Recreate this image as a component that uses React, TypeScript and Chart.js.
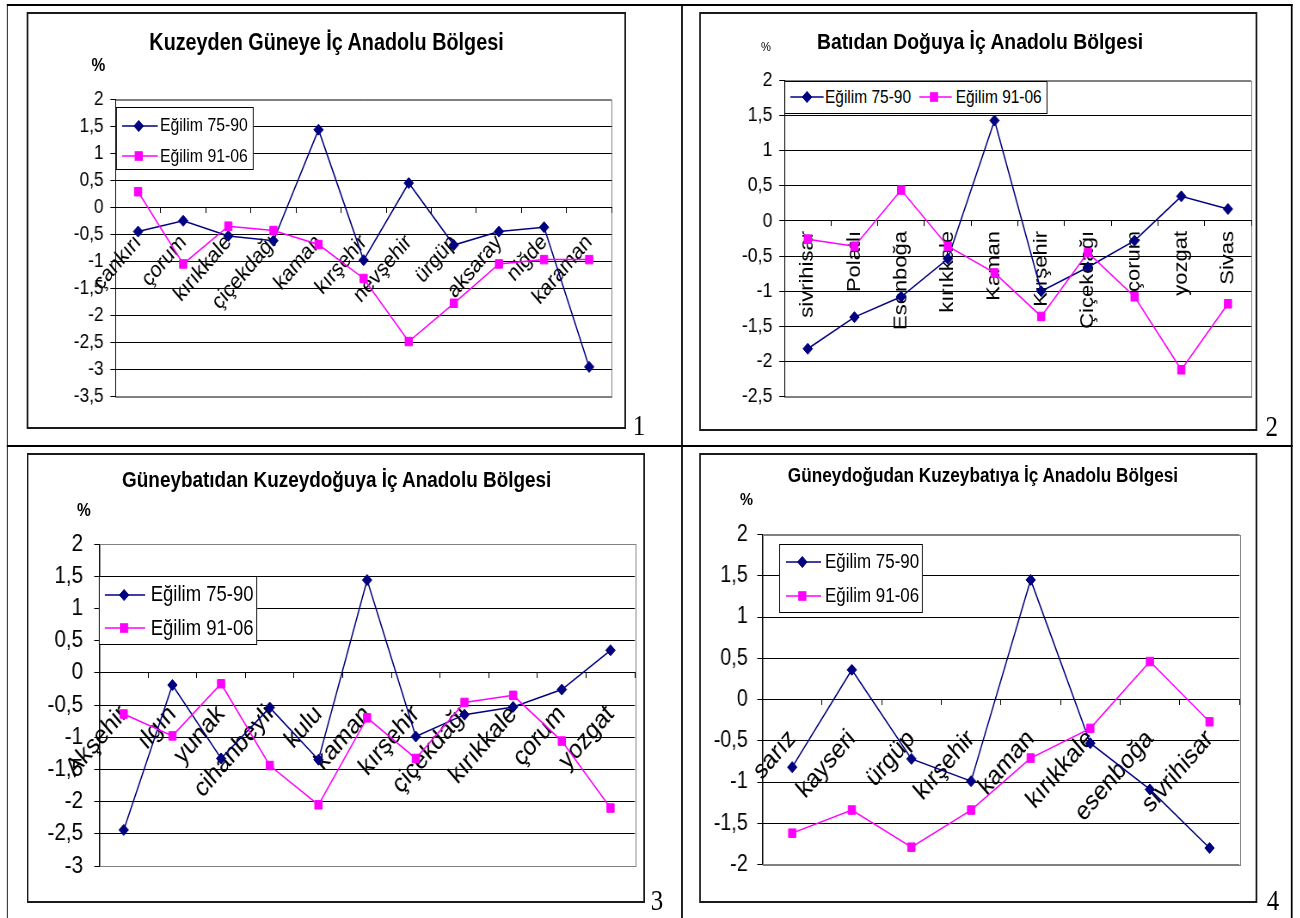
import React, { useEffect, useRef } from "react";
import { Chart, registerables } from "chart.js";

Chart.register(...registerables);

// The reference page is horizontally compressed; everything is drawn in a wider frame and squeezed.
const SX = 0.86;
const SANS = '"Liberation Sans", Arial, Helvetica, sans-serif';
const SERIF = '"Liberation Serif", "Times New Roman", serif';
const NAVY = "#000080";
const MAGENTA = "#FF00FF";

const seriesNames = ["Eğilim 75-90", "Eğilim 91-06"];
const yStep = 0.5;

// ---- Chart 1
const title1 = "Kuzeyden Güneye İç Anadolu Bölgesi";
const categories1 = ["çankırı", "çorum", "kırıkkale", "çiçekdağı", "kaman", "kırşehir", "nevşehir", "ürgüp", "aksaray", "niğde", "karaman"];
const trend7590_1 = [-0.45, -0.25, -0.53, -0.62, 1.44, -0.98, 0.45, -0.7, -0.45, -0.37, -2.96];
const trend9106_1 = [0.29, -1.05, -0.35, -0.43, -0.69, -1.32, -2.49, -1.78, -1.05, -0.97, -0.97];
const yMin1 = -3.5;
const yMax1 = 2;

// ---- Chart 2
const title2 = "Batıdan Doğuya İç Anadolu Bölgesi";
const categories2 = ["sivrihisar", "Polatlı", "Esenboğa", "kırıkkale", "Kaman", "Kırşehir", "Çiçekdağı", "çorum", "yozgat", "Sivas"];
const trend7590_2 = [-1.82, -1.37, -1.08, -0.54, 1.43, -1.0, -0.66, -0.28, 0.35, 0.17];
const trend9106_2 = [-0.26, -0.36, 0.44, -0.36, -0.74, -1.36, -0.45, -1.08, -2.12, -1.18];
const yMin2 = -2.5;
const yMax2 = 2;

// ---- Chart 3
const title3 = "Güneybatıdan Kuzeydoğuya İç Anadolu Bölgesi";
const categories3 = ["Akşehir", "ılgın", "yunak", "cihanbeyli", "kulu", "kaman", "kırşehir", "çiçekdağı", "kırıkkale", "çorum", "yozgat"];
const trend7590_3 = [-2.44, -0.19, -1.33, -0.54, -1.35, 1.44, -0.99, -0.65, -0.53, -0.26, 0.35];
const trend9106_3 = [-0.64, -0.98, -0.17, -1.44, -2.05, -0.7, -1.33, -0.46, -0.35, -1.06, -2.1];
const yMin3 = -3;
const yMax3 = 2;

// ---- Chart 4
const title4 = "Güneydoğudan Kuzeybatıya İç Anadolu Bölgesi";
const categories4 = ["sarız", "kayseri", "ürgüp", "kırşehir", "kaman", "kırıkkale", "esenboğa", "sivrihisar"];
const trend7590_4 = [-0.82, 0.36, -0.72, -0.99, 1.45, -0.53, -1.09, -1.8];
const trend9106_4 = [-1.62, -1.34, -1.79, -1.34, -0.71, -0.35, 0.46, -0.27];
const yMin4 = -2;
const yMax4 = 2;

// ---- Layouts (screen coordinates)
const layout1 = {
  box: [27.5, 12.5, 625, 428], plot: [115.5, 99, 611.5, 395],
  rotation: 45, catFont: 22.5, catPad: 17, tickFont: 20, tickPad: 8,
  title: { x: 326.5, y: 42.5, size: 23 },
  pct: { x: 98.5, y: 64.5, size: 18, bold: true },
  legend: { box: [116, 107.3, 253.3, 170], size: 18.4, rows: [
    { y: 125.5, x0: 121.7, x1: 157.3, mx: 138.3, tx: 160 },
    { y: 156, x0: 121.7, x1: 157.3, mx: 138.3, tx: 160 }] },
  num: { text: "1", x: 639, base: 435 },
};
const layout2 = {
  box: [700.5, 12.5, 1256.5, 429.5], plot: [784, 80, 1253.5, 396],
  rotation: 90, catFont: 22, catPad: 5, tickFont: 20.5, tickPad: 8,
  title: { x: 980, y: 42.5, size: 22.5 },
  pct: { x: 766, y: 46.7, size: 13, bold: false },
  legend: { box: [784.3, 80.7, 1047.3, 114.3], size: 18, rows: [
    { y: 96.7, x0: 790, x1: 823.3, mx: 806.7, tx: 825 },
    { y: 96.7, x0: 919.3, x1: 951.7, mx: 934, tx: 955.7 }] },
  num: { text: "2", x: 1271.7, base: 436.5 },
};
const layout3 = {
  box: [28, 453.5, 644, 901.5], plot: [99, 543.5, 634.7, 865.5],
  rotation: 45, catFont: 26.5, catPad: 21, tickFont: 24, tickPad: 13,
  title: { x: 336.7, y: 480, size: 22 },
  pct: { x: 84, y: 510, size: 18, bold: true },
  legend: { box: [99, 576, 257.5, 645], size: 21.5, rows: [
    { y: 595, x0: 105, x1: 145.2, mx: 124.2, tx: 150.7 },
    { y: 628.3, x0: 105, x1: 145.2, mx: 124.2, tx: 150.7 }] },
  num: { text: "3", x: 657, base: 910 },
};
const layout4 = {
  box: [700.5, 453.5, 1256.5, 901.5], plot: [762, 534, 1238.5, 864],
  rotation: 45, catFont: 26.5, catPad: 19, tickFont: 23, tickPad: 11,
  title: { x: 983, y: 475, size: 20 },
  pct: { x: 746.5, y: 499, size: 17, bold: true },
  legend: { box: [779.5, 543.5, 922.5, 612.5], size: 19.7, rows: [
    { y: 561.7, x0: 786, x1: 821, mx: 802.3, tx: 825 },
    { y: 595.7, x0: 786, x1: 821, mx: 802.3, tx: 825 }] },
  num: { text: "4", x: 1273, base: 910 },
};

const panels = [
  { title: title1, categories: categories1, a: trend7590_1, b: trend9106_1, yMin: yMin1, yMax: yMax1, L: layout1 },
  { title: title2, categories: categories2, a: trend7590_2, b: trend9106_2, yMin: yMin2, yMax: yMax2, L: layout2 },
  { title: title3, categories: categories3, a: trend7590_3, b: trend9106_3, yMin: yMin3, yMax: yMax3, L: layout3 },
  { title: title4, categories: categories4, a: trend7590_4, b: trend9106_4, yMin: yMin4, yMax: yMax4, L: layout4 },
];

const plotBorder = {
  id: "plotBorder",
  beforeDraw(chart: any) {
    const { ctx, chartArea: a } = chart;
    ctx.save();
    ctx.fillStyle = "#ffffff";
    ctx.fillRect(a.left, a.top, a.right - a.left, a.bottom - a.top);
    ctx.strokeStyle = "#808080";
    ctx.lineWidth = 1;
    ctx.strokeRect(Math.round(a.left) + 0.5, Math.round(a.top) + 0.5, Math.round(a.right - a.left), Math.round(a.bottom - a.top));
    ctx.restore();
  },
};

function ChartPanel({ p }: any) {
  const ref = useRef<HTMLCanvasElement>(null);
  const L = p.L;
  const [bl, bt, br, bb] = L.box;
  const [pl, pt, pr, pb] = L.plot;
  const cw = Math.round((br - bl) / SX);
  const ch = Math.round(bb - bt);
  useEffect(() => {
    const yW = 70;
    const padLeft = (pl - bl) / SX - yW;
    const padRight = (br - pr) / SX;
    const padTop = pt - bt;
    const padBottom = bb - pb;
    const yMin = p.yMin;
    const yMax = p.yMax;
    const chart = new Chart(ref.current as HTMLCanvasElement, {
      type: "line",
      data: {
        labels: p.categories,
        datasets: [
          {
            label: seriesNames[0], data: p.a, borderColor: NAVY, backgroundColor: NAVY,
            borderWidth: 1.5, pointStyle: "rectRot", pointRadius: 5.5, pointBorderWidth: 1,
            pointBackgroundColor: NAVY, pointBorderColor: NAVY, tension: 0, order: 1,
          },
          {
            label: seriesNames[1], data: p.b, borderColor: MAGENTA, backgroundColor: MAGENTA,
            borderWidth: 1.5, pointStyle: "rect", pointRadius: 6, pointBorderWidth: 1,
            pointBackgroundColor: MAGENTA, pointBorderColor: MAGENTA, tension: 0, order: 0,
          },
        ],
      },
      options: {
        responsive: false,
        animation: false,
        devicePixelRatio: 1,
        layout: { padding: { left: padLeft, right: padRight, top: padTop, bottom: padBottom } },
        plugins: { legend: { display: false }, title: { display: false }, tooltip: { enabled: false } },
        scales: {
          x: {
            type: "category",
            position: { y: 0 },
            offset: true,
            grid: { offset: true, drawOnChartArea: false, drawTicks: true, tickLength: 5, color: "#000", lineWidth: 1 },
            border: { display: true, color: "#000", width: 1 },
            ticks: {
              autoSkip: false, minRotation: L.rotation, maxRotation: L.rotation, padding: L.catPad,
              color: "#000", font: { family: SANS, size: L.catFont },
            },
            afterFit: (s: any) => { s.height = 0; s.paddingLeft = 0; s.paddingRight = 0; s.paddingTop = 0; s.paddingBottom = 0; },
          },
          y: {
            type: "linear", min: yMin, max: yMax,
            grid: {
              color: (c: any) => (c.tick && (c.tick.value === yMax || c.tick.value === yMin) ? "#808080" : "#000"),
              tickColor: "#000", tickLength: 6, lineWidth: 1, drawTicks: true,
            },
            border: { display: true, color: "#000", width: 1 },
            ticks: {
              autoSkip: false, stepSize: yStep, padding: L.tickPad, color: "#000", font: { family: SANS, size: L.tickFont },
              callback: (v: any) => String(Math.round(Number(v) * 10) / 10).replace(".", ","),
            },
            afterFit: (s: any) => { s.width = yW; s.paddingTop = 0; s.paddingBottom = 0; },
          },
        },
      } as any,
      plugins: [plotBorder],
    });
    return () => chart.destroy();
  }, []);
  return (
    <canvas
      ref={ref}
      width={cw}
      height={ch}
      style={{ position: "absolute", left: bl / SX, top: bt, width: cw, height: ch, display: "block" }}
    />
  );
}

function Marker({ kind, cx, cy }: any) {
  if (kind === 0) {
    const r = 5.5;
    return <polygon points={`${cx - r},${cy} ${cx},${cy - r} ${cx + r},${cy} ${cx},${cy + r}`} fill={NAVY} stroke={NAVY} strokeWidth={1} />;
  }
  const h = 4.25;
  return <rect x={cx - h} y={cy - h} width={2 * h} height={2 * h} fill={MAGENTA} stroke={MAGENTA} strokeWidth={1} />;
}

function Legend({ L }: any) {
  const [l, t, r, b] = L.legend.box;
  const size = L.legend.size;
  return (
    <>
      <div style={{ position: "absolute", left: l / SX, top: t, width: (r - l) / SX, height: b - t, border: "1px solid #000", background: "#fff", boxSizing: "border-box" }} />
      {L.legend.rows.map((row: any, i: number) => {
        const w = (row.x1 - row.x0) / SX;
        const cx = (row.mx - row.x0) / SX;
        return (
          <React.Fragment key={i}>
            <svg width={w} height={16} style={{ position: "absolute", left: row.x0 / SX, top: row.y - 8, overflow: "visible" }}>
              <line x1={0} y1={8} x2={w} y2={8} stroke={i === 0 ? NAVY : MAGENTA} strokeWidth={1.5} />
              <Marker kind={i} cx={cx} cy={8} />
            </svg>
            <div style={{ position: "absolute", left: row.tx / SX, top: row.y - size / 2, fontFamily: SANS, fontSize: size, lineHeight: `${size}px`, whiteSpace: "nowrap", color: "#000" }}>
              {seriesNames[i]}
            </div>
          </React.Fragment>
        );
      })}
    </>
  );
}

function Panel({ p }: any) {
  const L = p.L;
  const [bl, bt, br, bb] = L.box;
  return (
    <>
      <ChartPanel p={p} />
      <div style={{ position: "absolute", left: (bl - 1) / SX, top: bt - 1, width: (br - bl + 2) / SX, height: bb - bt + 2, border: "2px solid #1a1a1a", boxSizing: "border-box", pointerEvents: "none" }} />
      <div style={{ position: "absolute", left: L.title.x / SX - 500, width: 1000, top: L.title.y - L.title.size / 2, textAlign: "center", fontFamily: SANS, fontWeight: "bold", fontSize: L.title.size, lineHeight: `${L.title.size}px`, whiteSpace: "nowrap", color: "#000" }}>
        {p.title}
      </div>
      <div style={{ position: "absolute", left: L.pct.x / SX - 30, width: 60, top: L.pct.y - L.pct.size / 2, textAlign: "center", fontFamily: SANS, fontWeight: L.pct.bold ? "bold" : "normal", fontSize: L.pct.size, lineHeight: `${L.pct.size}px`, color: "#000" }}>
        %
      </div>
      <Legend L={L} />
      <div style={{ position: "absolute", left: L.num.x / SX - 30, width: 60, top: L.num.base - 0.8375 * 29, textAlign: "center", fontFamily: SERIF, fontSize: 29, lineHeight: "29px", color: "#000" }}>
        {L.num.text}
      </div>
    </>
  );
}

function HLine({ x0, x1, y, w }: any) {
  return <div style={{ position: "absolute", left: x0 / SX, width: (x1 - x0) / SX, top: y - w / 2, height: w, background: "#000" }} />;
}
function VLine({ x, y0, y1, w }: any) {
  return <div style={{ position: "absolute", left: (x - w / 2) / SX, width: w / SX, top: y0, height: y1 - y0, background: "#000" }} />;
}

export default function App() {
  return (
    <div style={{ position: "fixed", left: 0, top: 0, width: 1300, height: 918, overflow: "hidden", background: "#fff" }}>
      <div style={{ position: "absolute", left: 0, top: 0, width: 1300 / SX, height: 918, transform: `scaleX(${SX})`, transformOrigin: "0 0" }}>
        <HLine x0={6.5} x1={1292.5} y={5} w={2} />
        <HLine x0={6.5} x1={1292.5} y={446} w={1.5} />
        <VLine x={7.3} y0={4} y1={918} w={1.5} />
        <VLine x={681.7} y0={4} y1={918} w={1.5} />
        <VLine x={1291.7} y0={4} y1={918} w={1.5} />
        {panels.map((p, i) => <Panel key={i} p={p} />)}
      </div>
    </div>
  );
}
